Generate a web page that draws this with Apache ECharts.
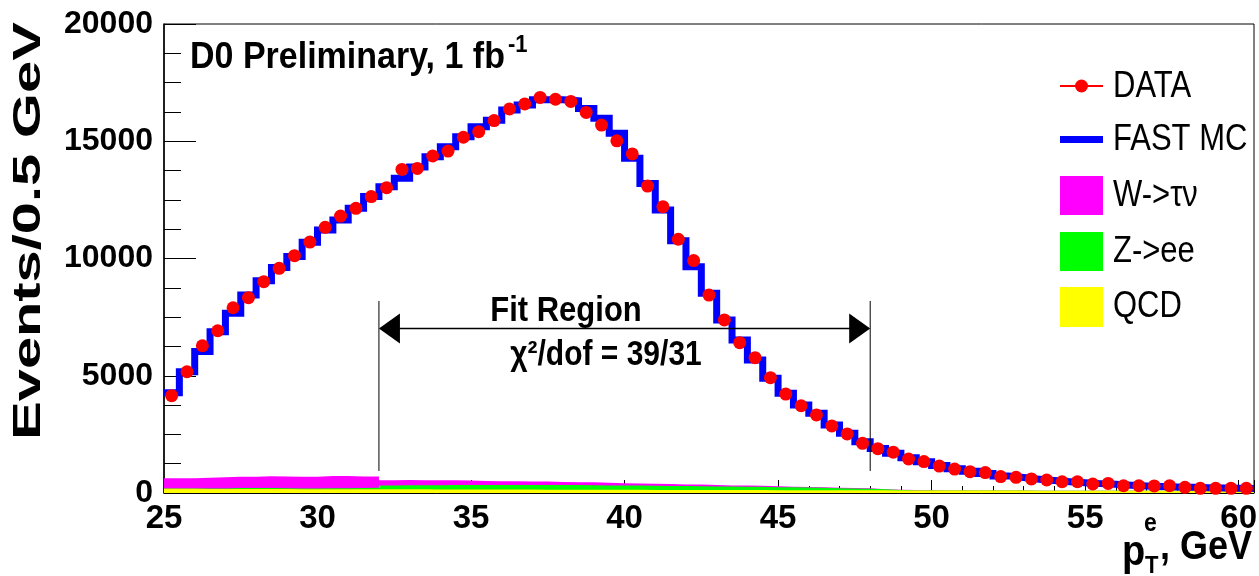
<!DOCTYPE html>
<html><head><meta charset="utf-8">
<script src="https://cdn.jsdelivr.net/npm/echarts@6/dist/echarts.min.js"></script>
<style>html,body{margin:0;padding:0;background:#fff}#c{width:1259px;height:576px}</style>
</head><body><div id="c"></div>
<script>
// ---- data ----
const binCenters = [25.25,25.75,26.25,26.75,27.25,27.75,28.25,28.75,29.25,29.75,30.25,30.75,31.25,31.75,32.25,32.75,33.25,33.75,34.25,34.75,35.25,35.75,36.25,36.75,37.25,37.75,38.25,38.75,39.25,39.75,40.25,40.75,41.25,41.75,42.25,42.75,43.25,43.75,44.25,44.75,45.25,45.75,46.25,46.75,47.25,47.75,48.25,48.75,49.25,49.75,50.25,50.75,51.25,51.75,52.25,52.75,53.25,53.75,54.25,54.75,55.25,55.75,56.25,56.75,57.25,57.75,58.25,58.75,59.25,59.75,60.25];
const binWidth = 0.5;
const dataValues = [4150,5170,6280,6920,7900,8330,9010,9580,10120,10700,11330,11810,12140,12640,13020,13800,13840,14370,14580,15170,15410,15880,16375,16590,16870,16790,16700,16230,15690,15020,14460,13090,12210,10820,9910,8440,7380,6410,5770,4920,4220,3720,3330,2860,2520,2120,1890,1740,1450,1340,1150,1020,910,870,700,670,600,555,480,480,385,410,310,310,300,310,240,200,200,200,200];
const fastMC = [4280,5170,6030,6880,7660,8440,9050,9620,10080,10690,11220,11640,12140,12640,13060,13420,13900,14340,14770,15190,15620,15900,16330,16550,16770,16770,16730,16400,15980,15340,14270,13200,12070,10760,9650,8520,7380,6520,5670,4890,4250,3750,3400,2900,2550,2190,1900,1700,1500,1330,1170,1030,930,830,730,660,590,530,480,440,400,370,330,300,280,260,240,220,210,200,190];
const wTauNu = [440,440,460,480,480,480,500,500,500,500,520,520,490,480,220,220,210,210,200,190,170,160,160,150,150,130,120,120,110,100,90,90,80,70,70,60,50,50,40,40,30,30,20,20,20,20,10,10,20,10,0,0,0,0,0,0,0,0,0,0,0,0,0,0,0,0,0,0,0,0,0];
const zEE = [10,10,15,20,40,40,40,30,30,30,35,40,50,60,170,180,180,185,190,190,190,195,200,200,200,200,200,195,190,185,180,175,170,165,160,155,150,145,140,130,120,110,100,90,80,70,40,20,0,0,0,0,0,0,0,0,0,0,0,0,0,0,0,0,0,0,0,0,0,0,0];
const qcd = [180,180,175,175,175,170,170,170,165,165,165,160,160,160,155,155,155,150,150,150,150,145,145,145,140,140,140,140,135,135,135,130,130,130,130,125,125,125,125,120,120,120,120,115,115,115,115,110,110,110,110,110,105,105,105,105,100,100,100,100,100,100,95,95,95,95,95,90,90,90,90];
const xRange = [25, 60.5];
const yRange = [0, 20000];
const fitRange = [32, 48];
const fitArrowY = 7015, fitLineTop = 8190, fitLineBottom = 940;
const seriesNames = ['DATA', 'FAST MC', 'W->\u03c4\u03bd', 'Z->ee', 'QCD'];

// ---- helpers ----
const NARROW = "'Liberation Sans Narrow','Liberation Sans',Arial,sans-serif";
const SANS = "'Liberation Sans',Arial,Helvetica,sans-serif";
function stepPoints(vals) {
  const pts = binCenters.map((c, i) => [c - binWidth / 2, vals[i]]);
  pts.push([binCenters[binCenters.length - 1] + binWidth / 2, vals[vals.length - 1]]);
  return pts;
}
const bkgTotal = qcd.map((v, i) => v + zEE[i] + wTauNu[i]);
const bkgZQ = qcd.map((v, i) => v + zEE[i]);

function areaSeries(name, vals, color, z) {
  return { name, type: 'line', step: 'end', data: stepPoints(vals), showSymbol: false, symbol: 'none',
    lineStyle: { width: 0, color }, itemStyle: { color }, areaStyle: { color, opacity: 1 }, z, silent: true };
}

function txt(text, x, y, font, opts) {
  opts = opts || {};
  return { type: 'text', x, y, z: 100, rotation: opts.rotation || 0, scaleX: opts.scaleX || 1, scaleY: opts.scaleY || 1,
    style: { text, x: 0, y: 0, font, fill: '#000', align: opts.align || 'left', textAlign: opts.align || 'left',
      verticalAlign: 'middle', textVerticalAlign: 'middle' } };
}

const chart = echarts.init(document.getElementById('c'), null, { renderer: 'canvas' });
const option = {
  animation: false,
  backgroundColor: '#fff',
  grid: { left: 164, right: 5, top: 24, bottom: 83, show: true, borderColor: '#000', borderWidth: 1,
    backgroundColor: 'transparent', containLabel: false, outerBoundsMode: 'none' },
  xAxis: {
    type: 'value', min: xRange[0], max: xRange[1], interval: 5,
    axisLine: { show: true, lineStyle: { color: '#000', width: 1 } },
    axisTick: { show: true, inside: true, length: 13, lineStyle: { color: '#000', width: 1 } },
    minorTick: { show: true, splitNumber: 5, length: 7, lineStyle: { color: '#000', width: 1 } },
    splitLine: { show: false }, minorSplitLine: { show: false },
    axisLabel: { color: '#000', fontFamily: NARROW, fontWeight: 'bold', fontSize: 33, margin: 9,
      formatter: v => (v % 5 === 0 ? String(v) : ''), hideOverlap: false }
  },
  yAxis: {
    type: 'value', min: yRange[0], max: yRange[1], interval: 5000,
    axisLine: { show: true, lineStyle: { color: '#000', width: 1.5 } },
    axisTick: { show: true, inside: true, length: 32, lineStyle: { color: '#000', width: 1 } },
    minorTick: { show: true, splitNumber: 4, length: 17, lineStyle: { color: '#000', width: 1 } },
    splitLine: { show: false }, minorSplitLine: { show: false },
    axisLabel: { color: '#000', fontFamily: NARROW, fontWeight: 'bold', fontSize: 32, margin: 11,
      formatter: v => String(v) }
  },
  series: [
    areaSeries(seriesNames[2], bkgTotal, '#ff00ff', 1),
    areaSeries(seriesNames[3], bkgZQ, '#00ff00', 2),
    areaSeries(seriesNames[4], qcd, '#ffff00', 3),
    { name: seriesNames[1], type: 'line', step: 'end', data: stepPoints(fastMC), showSymbol: false, symbol: 'none',
      lineStyle: { color: '#0000ff', width: 7, cap: 'butt', join: 'miter' }, z: 4, silent: true },
    { name: seriesNames[0], type: 'scatter', data: binCenters.map((c, i) => [c, dataValues[i]]),
      symbol: 'circle', symbolSize: 13, itemStyle: { color: '#ff0000', opacity: 1 }, z: 5, silent: true },
    { name: 'fit', type: 'custom', data: [[fitRange[0], fitArrowY]], z: 6, silent: true, clip: false,
      renderItem: (params, api) => {
        const l = api.coord([fitRange[0], fitArrowY]), r = api.coord([fitRange[1], fitArrowY]);
        const lt = api.coord([fitRange[0], fitLineTop]), lb = api.coord([fitRange[0], fitLineBottom]);
        const rt = api.coord([fitRange[1], fitLineTop]), rb = api.coord([fitRange[1], fitLineBottom]);
        const ah = 21, aw = 15, st = { stroke: '#000', lineWidth: 1 };
        return { type: 'group', children: [
          { type: 'line', shape: { x1: lt[0], y1: lt[1], x2: lb[0], y2: lb[1] }, style: st },
          { type: 'line', shape: { x1: rt[0], y1: rt[1], x2: rb[0], y2: rb[1] }, style: st },
          { type: 'line', shape: { x1: l[0] + 2, y1: l[1], x2: r[0] - 2, y2: r[1] }, style: { stroke: '#000', lineWidth: 1.5 } },
          { type: 'polygon', shape: { points: [[l[0], l[1]], [l[0] + ah, l[1] - aw], [l[0] + ah, l[1] + aw]] }, style: { fill: '#000' } },
          { type: 'polygon', shape: { points: [[r[0], r[1]], [r[0] - ah, r[1] - aw], [r[0] - ah, r[1] + aw]] }, style: { fill: '#000' } }
        ] };
      } }
  ],
  graphic: [
    // title
    txt('D0 Preliminary, 1 fb', 190, 58, "bold 34px " + SANS, { scaleY: 1.1 }),
    txt('-1', 508, 45, "bold 22px " + SANS, { scaleY: 1.1 }),
    // y-axis title
    txt('Events/0.5 GeV', 30, 231, "bold 38px " + SANS, { rotation: Math.PI / 2, scaleX: 1.52, align: 'center' }),
    // x-axis title
    txt('p', 1122, 553, "bold 38px " + SANS, { scaleY: 1.1 }),
    txt('e', 1144, 524, "bold 23px " + SANS, { scaleY: 1.1 }),
    txt('T', 1145, 566, "bold 22px " + SANS, { scaleY: 1.1 }),
    txt(', GeV', 1160, 548, "bold 36px " + SANS, { scaleY: 1.15 }),
    // fit annotation
    txt('Fit Region', 566, 311, "bold 31px " + SANS, { scaleY: 1.15, align: 'center' }),
    txt('\u03c7\u00b2/dof = 39/31', 606, 355, "bold 30px " + SANS, { scaleY: 1.15, align: 'center' }),
    // legend
    { type: 'rect', z: 99, shape: { x: 1052, y: 62, width: 200, height: 272 }, style: { fill: '#fff' } },
    { type: 'line', z: 100, shape: { x1: 1060, y1: 86, x2: 1103, y2: 86 }, style: { stroke: '#ff0000', lineWidth: 2 } },
    { type: 'circle', z: 100, shape: { cx: 1081.5, cy: 86, r: 6.5 }, style: { fill: '#ff0000' } },
    { type: 'rect', z: 100, shape: { x: 1060, y: 136, width: 43, height: 7 }, style: { fill: '#0000ff' } },
    { type: 'rect', z: 100, shape: { x: 1060, y: 176, width: 43, height: 39 }, style: { fill: '#ff00ff' } },
    { type: 'rect', z: 100, shape: { x: 1060, y: 232, width: 43, height: 39 }, style: { fill: '#00ff00' } },
    { type: 'rect', z: 100, shape: { x: 1060, y: 287, width: 43, height: 40 }, style: { fill: '#ffff00' } },
    txt(seriesNames[0], 1113, 87, "31px " + SANS, { scaleY: 1.17 }),
    txt(seriesNames[1], 1113, 140, "31px " + SANS, { scaleY: 1.17 }),
    txt(seriesNames[2], 1113, 196, "31px " + SANS, { scaleY: 1.17 }),
    txt(seriesNames[3], 1113, 252, "31px " + SANS, { scaleY: 1.17 }),
    txt(seriesNames[4], 1113, 307, "31px " + SANS, { scaleY: 1.17 })
  ]
};
chart.setOption(option);
</script></body></html>
